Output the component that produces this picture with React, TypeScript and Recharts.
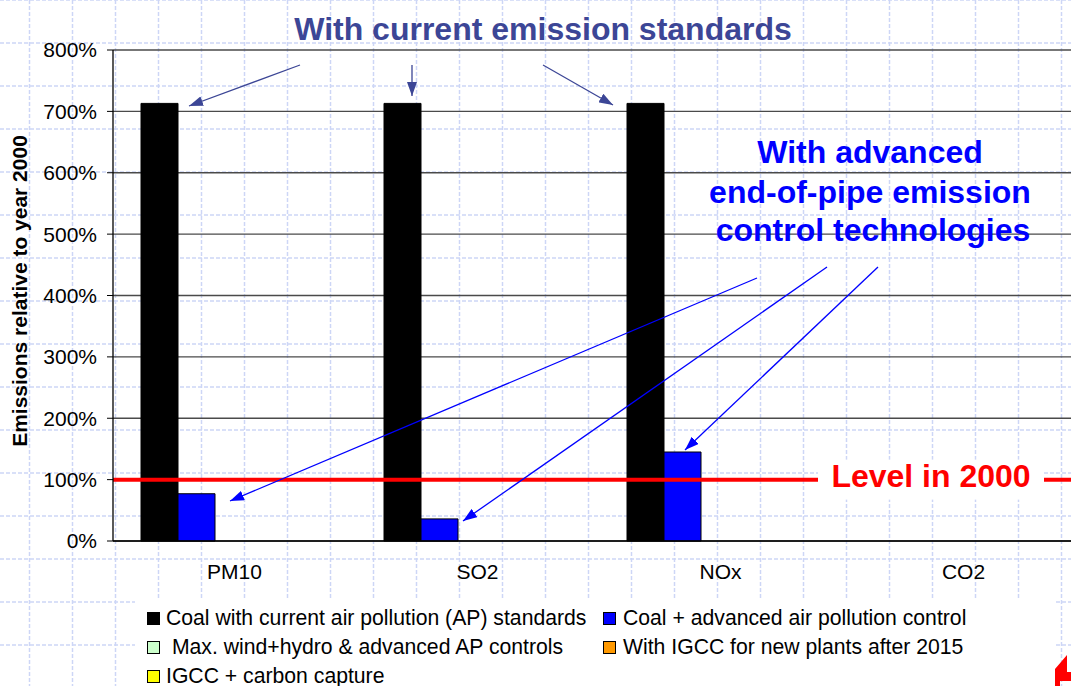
import { BarChart, Bar, XAxis, YAxis, CartesianGrid, ReferenceLine } from "recharts";

const FONT = '"Liberation Sans", Arial, sans-serif';

// emissions relative to year 2000, in %
const CATEGORIES = ["PM10", "SO2", "NOx", "CO2"];
const COAL_CURRENT = [713, 713, 713, null];
const COAL_ADVANCED = [77, 36, 145, null];
const WIND_HYDRO = [null, null, null, null];
const IGCC_NEW = [null, null, null, null];
const IGCC_CCS = [null, null, null, null];
const Y_TICKS = [0, 100, 200, 300, 400, 500, 600, 700, 800];
const LEVEL_2000 = 100;

const SERIES = [
  { key: "coalCurrent", name: "Coal with current air pollution (AP) standards", color: "#000000", values: COAL_CURRENT },
  { key: "coalAdvanced", name: "Coal + advanced air pollution control", color: "#0000ff", values: COAL_ADVANCED },
  { key: "windHydro", name: " Max. wind+hydro & advanced AP controls", color: "#ccffcc", values: WIND_HYDRO },
  { key: "igccNew", name: "With IGCC for new plants after 2015", color: "#ff9900", values: IGCC_NEW },
  { key: "igccCcs", name: "IGCC + carbon capture", color: "#ffff00", values: IGCC_CCS },
];

// legend slots (row, column) in series order
const LEGEND_SLOTS = [[0, 0], [0, 1], [1, 0], [1, 1], [2, 0]];

const data = CATEGORIES.map((category, i) => {
  const row: Record<string, string | number | null> = { category };
  SERIES.forEach((s) => { row[s.key] = s.values[i]; });
  return row;
});

function LevelLabel(props: any) {
  const vb = props.viewBox ?? {};
  const x = (vb.x ?? 0) + 705;
  const y = vb.y ?? 0;
  return (
    <g>
      <rect x={x} y={y - 20} width={226} height={40} fill="#fff" />
      <text x={x + 113} y={y + 7} textAnchor="middle" fill="#ff0000"
        fontFamily={FONT} fontWeight="bold" fontSize={32}>Level in 2000</text>
    </g>
  );
}

function BackgroundGrid() {
  const xs = Array.from({ length: 25 }, (_, k) => 29.5 + k * 43);
  const ys = Array.from({ length: 16 }, (_, k) => k * 43);
  return (
    <svg width={1071} height={686} style={{ position: "absolute", left: 0, top: 0 }}>
      {xs.map((x) => <line key={"v" + x} x1={x} x2={x} y1={0} y2={686} stroke="#cdd6f6" strokeWidth={1.5} strokeDasharray="4 2" />)}
      {ys.map((y) => <line key={"h" + y} x1={0} x2={1071} y1={y} y2={y} stroke="#cdd6f6" strokeWidth={1.5} strokeDasharray="4 2" />)}
    </svg>
  );
}

function Annotations() {
  const dark = "#3c4696";
  const blue = "#0000ff";
  return (
    <svg width={1071} height={686} style={{ position: "absolute", left: 0, top: 0, pointerEvents: "none" }}>
      <defs>
        <marker id="headDark" markerWidth="14" markerHeight="10" refX="14" refY="5" orient="auto" markerUnits="userSpaceOnUse">
          <path d="M0,0 L14,5 L0,10 z" fill={dark} />
        </marker>
        <marker id="headBlue" markerWidth="14" markerHeight="10" refX="14" refY="5" orient="auto" markerUnits="userSpaceOnUse">
          <path d="M0,0 L14,5 L0,10 z" fill={blue} />
        </marker>
      </defs>
      <text x={543} y={40} textAnchor="middle" fill={dark} fontFamily={FONT} fontWeight="bold" fontSize={32}>
        With current emission standards
      </text>
      <line x1={300} y1={65} x2={189} y2={106} stroke={dark} strokeWidth={1.3} markerEnd="url(#headDark)" />
      <line x1={412} y1={65} x2={412} y2={96} stroke={dark} strokeWidth={1.3} markerEnd="url(#headDark)" />
      <line x1={543} y1={65} x2={613} y2={105} stroke={dark} strokeWidth={1.3} markerEnd="url(#headDark)" />

      <g fill={blue} fontFamily={FONT} fontWeight="bold" fontSize={32} textAnchor="middle">
        <text x={870} y={163}>With advanced</text>
        <text x={870} y={203}>end-of-pipe emission</text>
        <text x={873} y={241}>control technologies</text>
      </g>
      <line x1={757} y1={278} x2={230} y2={501} stroke={blue} strokeWidth={1.3} markerEnd="url(#headBlue)" />
      <line x1={827} y1={267} x2={463} y2={521} stroke={blue} strokeWidth={1.3} markerEnd="url(#headBlue)" />
      <line x1={878} y1={267} x2={685} y2={450} stroke={blue} strokeWidth={1.3} markerEnd="url(#headBlue)" />

      <text transform="translate(27,291) rotate(-90)" textAnchor="middle" fill="#000"
        fontFamily={FONT} fontWeight="bold" fontSize={21}>
        Emissions relative to year 2000
      </text>

      <polygon points="1055,669 1067,655 1067,672 1071,672 1071,681 1060,681 1060,686 1055,686" fill="#ff0000" />
    </svg>
  );
}

function LegendBox() {
  const colX = [147, 603];
  const textX = [166, 623];
  return (
    <div style={{ position: "absolute", left: 135, top: 598, width: 920, height: 88, background: "#fff" }}>
      {SERIES.map((s, i) => {
        const [row, col] = LEGEND_SLOTS[i];
        const top = 603 + row * 29 - 598;
        return (
          <div key={s.key}>
            <div style={{
              position: "absolute", left: colX[col] - 135, top: top + 9, width: 11, height: 11,
              background: s.color, border: "1px solid #000",
            }} />
            <div style={{
              position: "absolute", left: textX[col] - 135, top, height: 29, lineHeight: "29px",
              fontFamily: FONT, fontSize: 21.2, color: "#000", whiteSpace: "pre",
            }}>{s.name}</div>
          </div>
        );
      })}
    </div>
  );
}

export default function App() {
  return (
    <div style={{ position: "absolute", left: 0, top: 0, width: 1071, height: 686, overflow: "hidden", background: "#fff" }}>
      <BackgroundGrid />
      <div style={{ position: "absolute", left: 0, top: 0 }}>
        <BarChart width={1100} height={686} data={data}
          margin={{ top: 50, right: 15, left: 8, bottom: 105 }}
          barCategoryGap={28} barGap={0}>
          <CartesianGrid vertical={false} stroke="#4a4a4a" strokeWidth={1.3} />
          <XAxis dataKey="category" height={40} tickLine={false} tickSize={0} tickMargin={23}
            axisLine={{ stroke: "#000", strokeWidth: 1.3 }}
            tick={{ fontSize: 21, fill: "#000", fontFamily: FONT }} />
          <YAxis width={105} domain={[0, 800]} ticks={Y_TICKS} interval={0}
            tickFormatter={(v) => `${v}%`} tickSize={6} tickMargin={10}
            tickLine={{ stroke: "#000" }} axisLine={{ stroke: "#000", strokeWidth: 1.3 }}
            tick={{ fontSize: 21, fill: "#000", fontFamily: FONT }} />
          {SERIES.map((s) => (
            <Bar key={s.key} dataKey={s.key} name={s.name} fill={s.color}
              stroke="#000" strokeWidth={1} isAnimationActive={false} />
          ))}
          <ReferenceLine y={LEVEL_2000} stroke="#ff0000" strokeWidth={4} label={<LevelLabel />} />
        </BarChart>
      </div>
      <LegendBox />
      <Annotations />
    </div>
  );
}
